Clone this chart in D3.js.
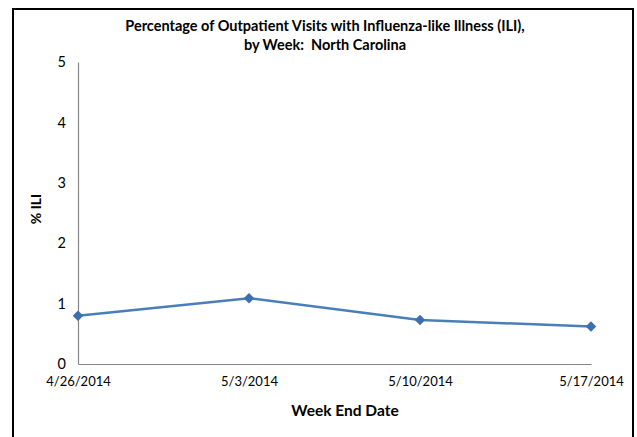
<!DOCTYPE html>
<html>
<head>
<meta charset="utf-8">
<title>ILI North Carolina</title>
<script src="https://cdn.jsdelivr.net/npm/d3@7/dist/d3.min.js"></script>
<style>
	html, body { margin: 0; padding: 0; background: white; }
	svg { display: block; font-family: Lato, 'Open Sans', sans-serif; }
</style>
</head>
<body>
<div id="chart"></div>
<script>

// data
var weeks = ["4/26/2014", "5/3/2014", "5/10/2014", "5/17/2014"];
var iliValues = [0.80, 1.09, 0.73, 0.62];
var yTicks = [0, 1, 2, 3, 4, 5];
var titleLines = ["Percentage of Outpatient Visits with Influenza-like Illness (ILI),", "by Week:  North Carolina"];

var width = 637, height = 437;

var svg = d3.select("#chart").append("svg")
	.attr("width", width)
	.attr("height", height);

// outer frame (runs off the bottom)
svg.append("path")
	.attr("d", "M13,446 L13,9 L633,9 L633,446")
	.attr("fill", "none")
	.attr("stroke", "#000")
	.attr("stroke-width", 2);

var x = d3.scalePoint()
	.domain(weeks)
	.range([78, 591])
	.padding(0);

var y = d3.scaleLinear()
	.domain([0, 5])
	.range([364, 62]);

// title
svg.append("text")
	.attr("x", 325)
	.attr("y", 31)
	.attr("text-anchor", "middle")
	.style("font-size", "14.5px")
	.style("font-weight", "bold")
	.style("white-space", "pre")
	.selectAll("tspan")
	.data(titleLines)
	.enter().append("tspan")
	.attr("x", 325)
	.attr("dy", function(d, i) { return i == 0 ? 0 : 19; })
	.text(function(d) { return d; });

// y axis
var yAxis = svg.append("g")
	.attr("transform", "translate(78,0)")
	.call(d3.axisLeft(y).tickValues(yTicks).tickSize(0).tickPadding(12).tickFormat(d3.format("d")));
yAxis.select(".domain").attr("stroke", "#868686").attr("stroke-width", 1.2);
yAxis.selectAll("text").style("font-size", "14.5px").attr("fill", "#000").style("font-family", "Lato, sans-serif");

// x axis
var xAxis = svg.append("g")
	.attr("transform", "translate(0," + y(0) + ")")
	.call(d3.axisBottom(x).tickSize(0).tickPadding(13));
xAxis.select(".domain").attr("stroke", "#868686").attr("stroke-width", 1.2);
xAxis.selectAll("text").style("font-size", "13px").attr("fill", "#000").style("font-family", "Lato, sans-serif");

// axis titles
svg.append("text")
	.attr("x", 345)
	.attr("y", 416)
	.attr("text-anchor", "middle")
	.style("font-size", "15.5px")
	.style("font-weight", "bold")
	.text("Week End Date");

svg.append("text")
	.attr("transform", "translate(41,209) rotate(-90)")
	.attr("text-anchor", "middle")
	.style("font-size", "14px")
	.style("font-weight", "bold")
	.text("% ILI");

// line
var line = d3.line()
	.x(function(d, i) { return x(weeks[i]); })
	.y(function(d) { return y(d); });

svg.append("path")
	.datum(iliValues)
	.attr("d", line)
	.attr("fill", "none")
	.attr("stroke", "#4a7ebb")
	.attr("stroke-width", 2.5);

svg.selectAll(".marker")
	.data(iliValues)
	.enter().append("path")
	.attr("class", "marker")
	.attr("d", d3.symbol().type(d3.symbolDiamond2).size(70))
	.attr("transform", function(d, i) { return "translate(" + x(weeks[i]) + "," + y(d) + ")"; })
	.attr("fill", "#3d6eb0");

</script>
</body>
</html>
